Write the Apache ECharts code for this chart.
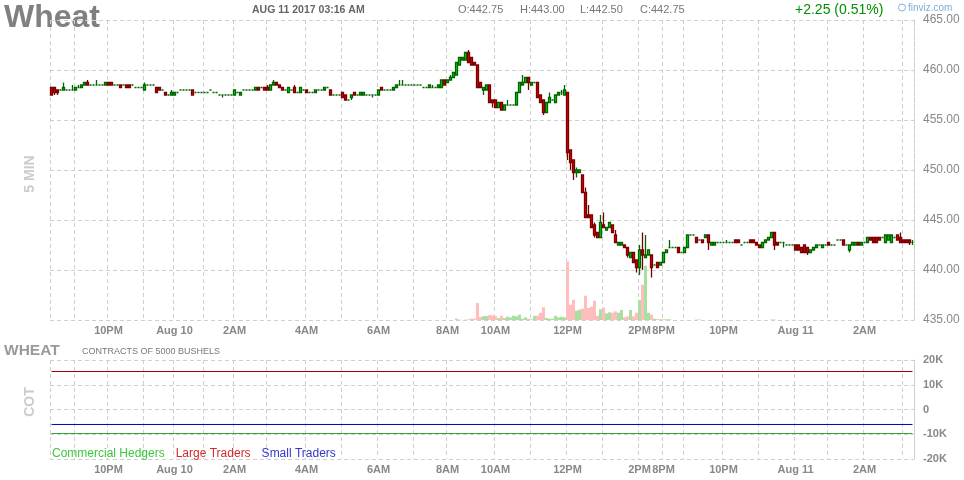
<!DOCTYPE html>
<html><head><meta charset="utf-8">
<script src="https://cdn.jsdelivr.net/npm/echarts@6/dist/echarts.min.js"></script>
<style>html,body{margin:0;padding:0;background:#fff}#c{width:964px;height:480px}</style>
</head><body><div id="c"></div>
<script>
// ---- 5-minute OHLC bars (index 0 = oldest) ----
const opens = [
458.25,458.25,458,458,458,458,458,458,458,458.25,
458.25,458.5,458.75,458.5,458.5,458.5,458.5,458.5,458.5,458.75,
458.75,458.5,458.5,458.5,458.5,458.5,458.5,458.5,458.25,458.25,
458.25,458,458.5,458.5,458.5,458.25,458.25,458,457.75,457.5,
457.5,457.5,457.75,458,458,458,458,458,457.75,457.75,
457.75,457.75,457.75,458,457.75,457.75,457.5,457.5,457.5,457.5,
457.5,457.5,457.75,457.5,458,458,458,458,458,458.25,
458.25,458.25,458.25,458,458.5,458.75,458.5,458.25,458,457.75,
458,458.25,457.75,457.75,458,458,457.75,457.75,457.75,458,
458,458,458.25,458,457.5,457.5,457.5,457.75,457.5,457,
457.25,457.75,457.5,457.5,457.5,457.5,457.5,457.5,457.5,457.5,
458.25,458,458,458,458,458.25,458.5,458.5,458.5,458.5,
458.5,458.5,458.5,458.5,458.25,458.25,458.25,458.25,458.25,458.25,
458.25,459,458.75,459,459.25,459.5,460.5,461,461,461.75,
461.25,460.75,460.5,458.75,458,458,458.5,457,457,456.25,
456.75,456,456.5,456.5,456.5,456.5,457.75,458.5,458.75,459.25,
458.5,458.75,458.75,457.5,457,455.75,456.75,457,456.75,457.5,
457.75,457.5,457.75,452,451,449.75,449.75,449.5,447.75,445.5,
445.5,444.5,443.75,443.25,444.5,444,444.25,444.5,443.5,442.5,
442.5,442.5,442.25,441.25,441.75,441,440.25,442,441.25,441.5,
441.5,440.5,440.75,440.5,440.75,441.75,442.25,442.25,442.25,442.25,
441.75,441.75,442.25,443.5,443.5,443.25,443,443,443.25,443.5,
442.5,442.5,442.75,442.75,442.75,442.75,442.75,442.75,443,443,
442.5,442.75,442.75,443,443,442.75,442.5,442.25,442.75,443,
443.25,443.75,442.75,442.75,442.75,442.5,442.5,442.5,442.5,442.5,
442.25,442.5,442.25,441.75,442,442.25,442.5,442.25,442.5,442.75,
442.5,442.5,443,443,443,442.5,442,442.5,442.5,442.75,
442.5,442.75,442.75,443.25,443.25,443.25,443.25,443.25,442.75,443,
442.75,443.25,443.5,443.25,443,443,443,442.75
];
const closes = [
457.5,457.75,457.75,458,458.25,458,458,458,458.25,458.25,
458.5,458.75,458.5,458.5,458.5,458.5,458.5,458.5,458.75,458.5,
458.5,458.5,458.5,458.25,458.5,458.25,458.25,458.5,458.25,458.25,
458.25,458.5,458.5,458.5,458.5,457.75,458,458,457.5,457.5,
457.75,457.75,457.75,458,458,458,458,457.5,457.75,457.75,
457.75,457.75,457.75,458,457.75,457.75,457.5,457.5,457.5,457.5,
457.5,458,457.75,457.75,458,458,458,458,458.25,458,
458.25,458,458,458.5,458.75,458.5,458.25,458,458,458.25,
458,457.75,457.75,458.25,458,457.75,457.75,457.75,458,458,
458,458.25,458.25,457.5,457.5,457.5,457.5,457.25,457,457,
457.5,457.5,457.5,457.75,457.75,457.5,457.5,457.5,457.5,458,
458,458,458,458,458.25,458.5,458.5,458.5,458.5,458.5,
458.5,458.5,458.5,458.5,458.25,458.25,458.5,458.25,458.25,458.5,
459,458.5,459,459.25,459.75,460.75,461.25,461.25,461.75,460.75,
460.5,460.5,458.25,458.25,458.25,458.5,456.75,456.75,456.25,456.75,
456,456.5,456.5,456.5,456.5,457.75,458.75,458.75,459.25,458.75,
458.75,458.75,457.25,456.75,455.75,456.75,457.25,457,457.5,457.75,
457.75,458,451.75,450.75,449.75,450,450,447.75,445.25,445.25,
444.25,443.5,443.25,444.75,444.25,444.25,444.75,443.75,442.75,442.75,
442.75,442.25,441.5,441.75,440.75,440.25,442,441.5,441.5,442,
440.25,440.5,440.25,440.75,441.75,442,442.25,442.25,442.25,441.75,
441.75,442.25,443.5,443.5,443.5,442.75,443,442.75,443.5,442.75,
442.75,442.75,442.75,442.75,442.75,442.75,442.75,442.75,442.75,442.75,
442.5,442.75,442.75,442.75,442.75,442.5,442.25,442.75,443,443.25,
443.75,442.5,442.5,442.75,442.75,442.5,442.5,442.5,442,442,
441.75,441.75,441.75,442,442.25,442.5,442.5,442.5,442.5,442.5,
442.5,442.5,443,443,442.5,442.5,442.5,442.75,442.75,442.5,
442.75,442.75,443.25,443,442.75,442.75,443,443.25,443.5,443.5,
443.5,443.25,443,442.75,442.75,442.75,442.75,442.75
];
const lows = [
457.5,457.5,457.5,458,458,458,458,458,458,458.25,
458.25,458.5,458.5,458.5,458.5,458.5,458.5,458.5,458.5,458.5,
458.5,458.5,458.5,458.25,458.5,458.25,458.25,458.5,458.25,458.25,
458.25,458,458.5,458.5,458.5,457.75,458,458,457.5,457.5,
457.5,457.5,457.75,458,458,458,458,457.5,457.75,457.75,
457.75,457.75,457.75,458,457.75,457.75,457.5,457.25,457.5,457.5,
457.5,457.5,457.75,457.5,458,458,458,458,458,458,
458.25,458,458,458,458.5,458.5,458.25,458,458,457.75,
458,457.75,457.75,457.75,458,457.75,457.75,457.75,457.75,458,
458,458,458.25,457.5,457.5,457.5,457.5,457.25,457,457,
457,457.5,457.5,457.5,457.5,457.5,457.5,457.25,457.5,457.5,
458,458,458,458,458,458.25,458.5,458.5,458.5,458.5,
458.5,458.5,458.5,458.5,458.25,458.25,458.25,458.25,458.25,458.25,
458.25,458.5,458.75,459,459.25,459.5,460.5,461,461,460.75,
460.5,460.5,458.25,458.25,457.5,458,456.75,456.25,456.25,456.25,
456,456,456.5,456.5,456.5,456.5,457.75,458.5,458.75,458,
458.5,458.75,457.25,456.75,455.5,455.75,456.75,457,456.75,457.5,
457.5,457.5,451,450,449,449.25,449.75,447.75,445.25,445.25,
444.25,443.25,443.25,443.25,444.25,444,444.25,443.75,442.75,442.5,
442.5,442.25,441.25,441.25,440.75,439.75,439.5,440,441.25,441.5,
439.25,440.5,440.25,440.5,440.75,441.75,442.25,442.25,442.25,441.75,
441.75,441.75,442.25,443.5,443.5,442.75,443,442.75,443.25,442,
442.5,442.5,442.75,442.75,442.75,442.75,442.75,442.75,442.75,442.75,
442.5,442.75,442.75,442.75,442.75,442.5,442.25,442.25,442.75,443,
443.25,442,442.5,442.75,442.25,442.5,442.5,442.5,442,442,
441.75,441.75,441.5,441.75,442,442.25,442.5,442.25,442.5,442.5,
442.5,442.5,443,443,442.5,442.5,441.75,442.5,442.5,442.5,
442.5,442.75,442.75,443,442.75,442.75,443,443.25,442.75,443,
442.75,443.25,443,442.75,442.75,442.75,442.5,442.5
];
const highs = [
458.25,458.25,458,458,458.75,458,458,458.5,458.25,458.5,
458.5,458.75,459,458.5,458.5,459,458.5,458.5,458.75,458.75,
458.75,458.5,458.5,458.5,458.5,458.5,458.5,458.5,458.25,458.25,
458.25,458.75,458.5,458.5,458.5,458.25,458.25,458,457.75,457.5,
458,457.75,457.75,458,458,458,458,458,457.75,457.75,
457.75,457.75,457.75,458,457.75,457.75,457.5,457.5,457.5,457.5,
457.5,458,457.75,457.75,458,458,458,458,458.25,458.25,
458.25,458.25,458.5,458.5,459,458.75,458.5,458.25,458,458.25,
458,458.5,457.75,458.25,458,458,457.75,457.75,458,458,
458,458.25,458.25,458,457.5,457.5,457.5,457.75,457.5,457,
457.5,457.75,457.5,457.75,457.75,457.5,457.5,457.5,457.5,458,
458.25,458,458,458,458.25,458.5,459,459,458.5,458.5,
458.5,458.5,458.5,458.5,458.25,458.25,458.5,458.5,458.25,458.5,
459,459,459,459.5,459.75,460.75,461.25,461.25,461.75,462,
461.25,460.75,460.5,458.75,458.25,458.5,458.5,457,457,456.75,
456.75,456.5,457,456.5,456.5,457.75,458.75,459.5,459.25,459.25,
458.75,458.75,458.75,457.5,457,456.75,457.75,457,457.5,457.75,
458,458.5,457.75,452,451,450.25,450,449.5,448.25,446.5,
445.5,444.75,443.75,445.5,445.75,444.25,444.75,444.5,444,442.75,
442.75,442.5,442.25,441.75,441.75,441,442.5,443.75,443.5,442,
441.5,440.5,440.75,440.75,441.75,442,443,442.25,442.25,442.25,
441.75,442.25,443.5,443.5,443.5,443.25,443,443,443.5,443.5,
442.75,442.75,442.75,442.75,442.75,443,442.75,442.75,443,443,
442.5,442.75,442.75,443,443,442.75,442.5,442.75,443,443.25,
443.75,443.75,442.75,442.75,442.75,442.5,442.5,442.5,442.5,442.5,
442.25,442.5,442.25,442,442.25,442.5,442.5,442.5,442.5,442.75,
442.5,442.5,443,443,443,442.5,442.5,442.75,442.75,442.75,
442.75,442.75,443.25,443.25,443.25,443.25,443.25,443.25,443.5,443.5,
443.5,443.25,443.5,443.75,443,443,443,443
];
// contracts per bar
const volumes = [
0,0,0,0,0,0,0,0,0,0, 0,0,0,0,0,0,0,0,0,0, 0,0,0,0,0,0,0,0,0,0,
0,0,0,0,0,0,0,0,0,0, 0,0,0,0,0,0,0,0,0,0, 0,0,0,0,0,0,0,0,0,0,
0,0,0,0,0,0,0,0,0,0, 0,0,0,0,0,0,0,0,0,0, 0,0,0,0,0,0,0,0,0,0,
0,0,0,0,0,0,0,0,0,0, 0,0,0,0,0,0,0,0,0,0, 0,0,0,0,0,0,0,0,0,0,
0,0,0,0,0,0,0,0,0,0,
0,0,0,0,0,13,3,0,3,7,
13,13,170,30,40,40,50,47,40,17,
43,20,33,27,43,37,53,13,27,13,
7,43,43,73,127,20,13,13,43,27,
33,27,587,153,203,93,103,113,243,120,
133,193,43,107,123,67,77,73,87,73,
100,27,37,100,37,73,200,353,543,73,
53,13,10,7,7,7,7,0,0,0,
0,0,0,0,0,5,5,0,0,0,
0,0,0,0,0,0,0,0,0,0,
0,0,0,0,0,0,0,0,0,0,
5,5,0,0,0,0,0,0,0,0,
0,0,0,0,0,0,0,0,0,0,
0,0,0,0,0,0,0,0,0,0,
0,0,0,0,0,0,0,0,0,0,
0,0,0,0,0,0,0,0
];
// hour boundaries (bar index) and labelled ones
const hourTicks = [0,8,19,31,41,51,61,72,85,97,109,121,132,148,160,172,184,196,204,211,224,236,248,259,271,284];
const labelTicks = [19,41,61,85,109,132,148,172,196,204,224,248,271];
const labelTexts = ['10PM','Aug 10','2AM','4AM','6AM','8AM','10AM','12PM','2PM','8PM','10PM','Aug 11','2AM'];
// COT net positions (start, end of window)
const cotNames = ['Commercial Hedgers','Large Traders','Small Traders'];
const cotCommercial = [-9700,-9700];
const cotLarge = [15350,15350];
const cotSmall = [-6050,-6050];
const prevSettle = 440.50;

const FONT = '"Liberation Sans", Arial, sans-serif';
const cats = opens.map((_, i) => String(i));
const last = cats.length - 1;
const candleData = opens.map((o, i) => [o, closes[i], lows[i], highs[i]]);
const volData = volumes.map((v, i) => ({
  value: v,
  itemStyle: { color: closes[i] >= opens[i] ? '#a9e0a2' : '#ffbdbd' }
}));
const lastC = closes[last];
const chg = lastC - prevSettle;
const gridLine = { show: true, lineStyle: { color: '#cfcfcf', type: [4, 3], width: 1 } };

const chart = echarts.init(document.getElementById('c'));
const xBase = {
  type: 'category', data: cats, boundaryGap: true,
  axisLine: { show: false }, axisTick: { show: false },
  splitLine: { show: true, interval: (i) => hourTicks.indexOf(i) >= 0, lineStyle: gridLine.lineStyle },
  axisLabel: {
    interval: (i) => labelTicks.indexOf(i) >= 0,
    formatter: (v, i) => { const k = labelTicks.indexOf(Number(v)); return k >= 0 ? labelTexts[k] : ''; },
    color: '#888', fontWeight: 'bold', fontSize: 11, fontFamily: FONT, margin: 5
  }
};
chart.setOption({
  animation: false,
  backgroundColor: '#fff',
  grid: [
    { left: 50, right: 50, top: 20, height: 300 },
    { left: 50, right: 50, top: 360, height: 99 }
  ],
  xAxis: [
    Object.assign({ gridIndex: 0 }, xBase),
    Object.assign({ gridIndex: 1 }, xBase)
  ],
  yAxis: [
    { gridIndex: 0, position: 'right', min: 435, max: 465, interval: 5, scale: true,
      axisLine: { show: true, lineStyle: { color: '#cfcfcf', type: [4, 3] } }, axisTick: { show: false },
      splitLine: gridLine,
      axisLabel: { formatter: (v) => v.toFixed(2), color: '#888', fontSize: 12, fontFamily: FONT, margin: 9 } },
    { gridIndex: 0, min: 0, max: 3000, show: false, splitLine: { show: false } },
    { gridIndex: 1, position: 'right', min: -20000, max: 20000, interval: 10000,
      axisLine: { show: true, lineStyle: { color: '#cfcfcf', type: [4, 3] } }, axisTick: { show: false },
      splitLine: gridLine,
      axisLabel: { formatter: (v) => v === 0 ? '0' : (v / 1000) + 'K', color: '#888', fontWeight: 'bold', fontSize: 11, fontFamily: FONT, margin: 9 } }
  ],
  legend: {
    left: 41, top: 443, itemWidth: 0, itemHeight: 0, itemGap: 5, selectedMode: false,
    textStyle: { fontSize: 12, fontFamily: FONT },
    data: [
      { name: cotNames[0], textStyle: { color: '#3bc83b' } },
      { name: cotNames[1], textStyle: { color: '#d42a2a' } },
      { name: cotNames[2], textStyle: { color: '#3535d0' } }
    ]
  },
  series: [
    { type: 'bar', xAxisIndex: 0, yAxisIndex: 1, data: volData, barWidth: 3, barGap: '-100%', z: 1, silent: true },
    { type: 'candlestick', xAxisIndex: 0, yAxisIndex: 0, data: candleData, barWidth: 3, z: 3,
      itemStyle: { color: '#00dd00', color0: '#dd0000', borderColor: '#006400', borderColor0: '#7a0000', borderColorDoji: '#006400', borderWidth: 1.3 },
      markLine: { silent: true, symbol: ['none', 'none'], lineStyle: { opacity: 0 },
        label: { position: 'end', distance: 6, formatter: (p) => p.value.toFixed(2), backgroundColor: '#ffff00', color: '#333', fontSize: 12, fontFamily: FONT, padding: [2, 3, 2, 3] },
        data: [{ yAxis: lastC }] } },
    { name: cotNames[0], type: 'line', xAxisIndex: 1, yAxisIndex: 2, symbol: 'none', lineStyle: { color: '#2eaa2e', width: 1 }, itemStyle: { color: '#2eaa2e' },
      data: [[cats[0], cotCommercial[0]], [cats[last], cotCommercial[1]]] },
    { name: cotNames[1], type: 'line', xAxisIndex: 1, yAxisIndex: 2, symbol: 'none', lineStyle: { color: '#a00000', width: 1 }, itemStyle: { color: '#a00000' },
      data: [[cats[0], cotLarge[0]], [cats[last], cotLarge[1]]] },
    { name: cotNames[2], type: 'line', xAxisIndex: 1, yAxisIndex: 2, symbol: 'none', lineStyle: { color: '#0000cc', width: 1 }, itemStyle: { color: '#0000cc' },
      data: [[cats[0], cotSmall[0]], [cats[last], cotSmall[1]]] }
  ],
  graphic: [
    { type: 'text', x: 4, y: 18, style: { text: 'Wheat', font: 'bold 32px ' + FONT, fill: '#808080', verticalAlign: 'middle', textVerticalAlign: 'middle' } },
    { type: 'text', x: 252, y: 10, style: { text: 'AUG 11 2017 03:16 AM', font: 'bold 10.5px ' + FONT, fill: '#666', verticalAlign: 'middle', textVerticalAlign: 'middle' } },
    { type: 'text', x: 458, y: 10, style: { text: 'O:' + opens[last].toFixed(2), font: '11px ' + FONT, fill: '#777', verticalAlign: 'middle', textVerticalAlign: 'middle' } },
    { type: 'text', x: 520, y: 10, style: { text: 'H:' + highs[last].toFixed(2), font: '11px ' + FONT, fill: '#777', verticalAlign: 'middle', textVerticalAlign: 'middle' } },
    { type: 'text', x: 580, y: 10, style: { text: 'L:' + lows[last].toFixed(2), font: '11px ' + FONT, fill: '#777', verticalAlign: 'middle', textVerticalAlign: 'middle' } },
    { type: 'text', x: 640, y: 10, style: { text: 'C:' + closes[last].toFixed(2), font: '11px ' + FONT, fill: '#777', verticalAlign: 'middle', textVerticalAlign: 'middle' } },
    { type: 'text', x: 795, y: 10, style: { text: (chg >= 0 ? '+' : '') + chg.toFixed(2) + ' (' + (chg / prevSettle * 100).toFixed(2) + '%)', font: '14px ' + FONT, fill: '#008f00', verticalAlign: 'middle', textVerticalAlign: 'middle' } },
    { type: 'circle', shape: { cx: 902, cy: 7.5, r: 3.5 }, style: { fill: 'none', stroke: '#7fb0e0', lineWidth: 1 } },
    { type: 'text', x: 908, y: 8, style: { text: 'finviz.com', font: '10px ' + FONT, fill: '#7fb0e0', verticalAlign: 'middle', textVerticalAlign: 'middle' } },
    { type: 'text', x: 30, y: 174, rotation: Math.PI / 2, style: { text: '5 MIN', font: 'bold 14px ' + FONT, fill: '#cccccc', textAlign: 'center', align: 'center', verticalAlign: 'middle', textVerticalAlign: 'middle' } },
    { type: 'text', x: 4, y: 351, style: { text: 'WHEAT', font: 'bold 15.5px ' + FONT, fill: '#9a9a9a', verticalAlign: 'middle', textVerticalAlign: 'middle' } },
    { type: 'text', x: 82, y: 352, style: { text: 'CONTRACTS OF 5000 BUSHELS', font: '9px ' + FONT, fill: '#777', verticalAlign: 'middle', textVerticalAlign: 'middle' } },
    { type: 'text', x: 30, y: 402, rotation: Math.PI / 2, style: { text: 'COT', font: 'bold 14px ' + FONT, fill: '#cccccc', textAlign: 'center', align: 'center', verticalAlign: 'middle', textVerticalAlign: 'middle' } }
  ]
});
</script>
</body></html>
